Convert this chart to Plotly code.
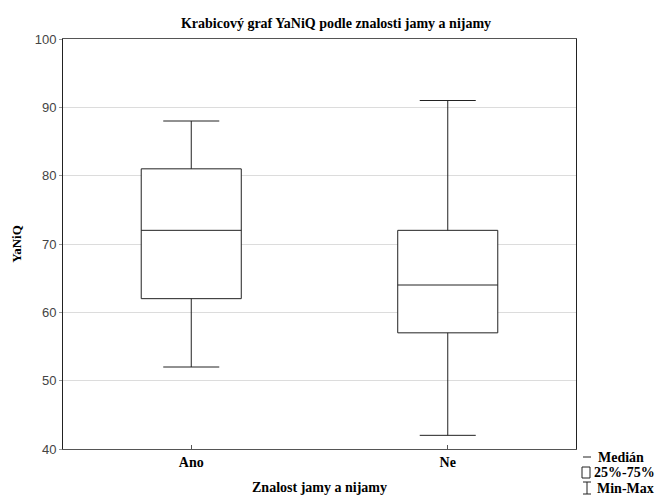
import plotly.graph_objects as go

categories = ["Ano", "Ne"]
minimum = [52, 42]
q1 = [62, 57]
median = [72, 64]
q3 = [81, 72]
maximum = [88, 91]

fig = go.Figure()
fig.add_trace(go.Box(
    x=categories, q1=q1, median=median, q3=q3,
    lowerfence=minimum, upperfence=maximum,
    fillcolor="white", line=dict(color="#222", width=1),
    width=0.39, whiskerwidth=0.56, boxpoints=False, hoverinfo="skip",
    showlegend=False,
))

def px_x(p):
    return (p - 63) / 513

def px_y(p):
    return (449 - p) / 410

ln = dict(color="#222", width=1)
shapes = [
    dict(type="line", xref="paper", yref="paper", x0=px_x(583), x1=px_x(591), y0=px_y(457), y1=px_y(457), line=ln),
    dict(type="rect", xref="paper", yref="paper", x0=px_x(582), x1=px_x(590), y0=px_y(478), y1=px_y(467), line=ln, fillcolor="white"),
    dict(type="line", xref="paper", yref="paper", x0=px_x(583), x1=px_x(591), y0=px_y(482), y1=px_y(482), line=ln),
    dict(type="line", xref="paper", yref="paper", x0=px_x(587), x1=px_x(587), y0=px_y(482), y1=px_y(494), line=ln),
    dict(type="line", xref="paper", yref="paper", x0=px_x(583), x1=px_x(591), y0=px_y(494), y1=px_y(494), line=ln),
]

legend_font = dict(family="Liberation Serif", size=14, color="black")
annotations = [
    dict(text="<b>Medián</b>", xref="paper", yref="paper", x=px_x(596), y=px_y(457), xanchor="left", yanchor="middle", showarrow=False, font=legend_font),
    dict(text="<b>25%-75%</b>", xref="paper", yref="paper", x=px_x(592), y=px_y(472), xanchor="left", yanchor="middle", showarrow=False, font=legend_font),
    dict(text="<b>Min-Max</b>", xref="paper", yref="paper", x=px_x(595), y=px_y(488), xanchor="left", yanchor="middle", showarrow=False, font=legend_font),
]

fig.update_layout(
    width=659, height=497,
    margin=dict(l=63, r=83, t=39, b=48),
    paper_bgcolor="white", plot_bgcolor="white",
    title=dict(text="<b>Krabicový graf YaNiQ podle znalosti jamy a nijamy</b>",
               x=336 / 659, xanchor="center", y=1 - 23 / 497, yanchor="middle",
               font=dict(family="Liberation Serif", size=14, color="black")),
    shapes=shapes, annotations=annotations,
)
fig.update_xaxes(
    range=[-0.5, 1.5], showline=True, linecolor="#555", linewidth=1, mirror=True,
    ticks="inside", ticklen=4, tickcolor="#555", showgrid=False, automargin=False,
    tickfont=dict(family="Liberation Serif", size=14, color="black"),
    tickprefix="<b>", ticksuffix="</b>",
    title=dict(text="<b>Znalost jamy a nijamy</b>", standoff=13,
               font=dict(family="Liberation Serif", size=14, color="black")),
)
fig.update_yaxes(
    range=[40, 100], dtick=10, showline=True, linecolor="#222", linewidth=1, mirror=True,
    ticks="outside", ticklen=3, tickcolor="#999", showgrid=True, gridcolor="#dcdcdc", gridwidth=1,
    zeroline=False, automargin=False,
    tickfont=dict(family="Liberation Sans", size=13, color="#444"),
    title=dict(text="<b>YaNiQ</b>", standoff=10,
               font=dict(family="Liberation Serif", size=13, color="black")),
)

fig.write_html("out.html")
